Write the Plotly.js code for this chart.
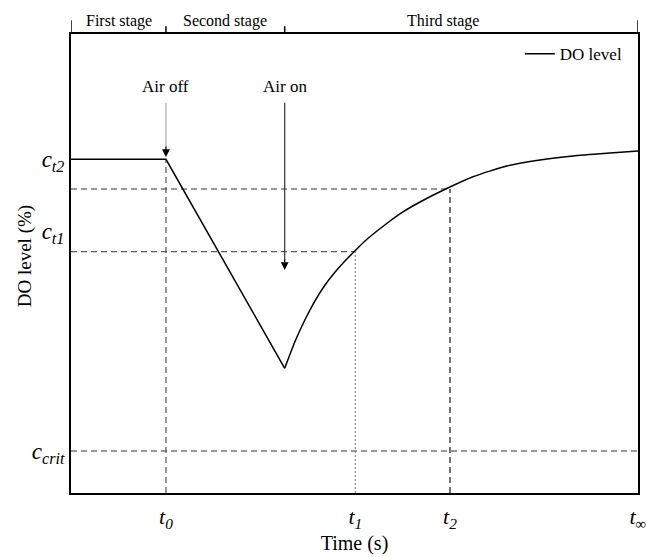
<!DOCTYPE html>
<html>
<head>
<meta charset="utf-8">
<script src="https://cdn.plot.ly/plotly-3.0.1.min.js"></script>
<style>html,body{margin:0;padding:0;background:#fff;}#chart{width:646px;height:557px;}</style>
</head>
<body>
<div id="chart"></div>
<script>
// ---- data (arbitrary units) ----
// first and second stage: constant level, then linear drop after air is switched off
const dropTime = [0, 16.75, 37.69];
const dropDO   = [72.7, 72.7, 27.17];
// third stage: recovery after air is switched on
const riseTime = [37.69, 39.45, 41.22, 42.98, 44.74, 46.51, 48.27, 50.09, 51.85, 55.68, 58.61, 61.55, 66.26, 70.9, 76.84, 82.72, 88.54, 94.48, 100];
const riseDO   = [27.17, 32.83, 37.63, 41.76, 45.21, 48.04, 50.48, 52.77, 54.9, 58.71, 61.29, 63.4, 66.34, 68.91, 71.24, 72.55, 73.42, 74.01, 74.51];

const t0 = 16.75, tAirOn = 37.69, t1 = 50.14, t2 = 66.84, tInf = 99.999;
const cT2 = 72.7, cT1line = 52.57, cT2line = 66.23, cCrit = 9.15, cT1label = 57.0;

const xTickVals = [t0, t1, t2, tInf];
const xTickText = ['<i>t</i><sub><i>0</i></sub>', '<i>t</i><sub><i>1</i></sub>', '<i>t</i><sub><i>2</i></sub>', '<i>t</i><sub>\u221e</sub>'];
const yTickVals = [cT2, cT1label, cCrit];
const yTickText = ['<i>c</i><sub><i>t2</i></sub>', '<i>c</i><sub><i>t1</i></sub>', '<i>c</i><sub><i>crit</i></sub>'];

const stageBounds = [0, 16.75, 37.69, 100];
const stageNames = ['First stage', 'Second stage', 'Third stage'];
const stageLabelX = [8.4, 27.2, 65.6];

const arrowX = [t0, tAirOn];
const arrowTail = [85.0, 85.0];
const arrowTip = [73.2, 48.6];
const arrowLabels = ['Air off', 'Air on'];
const arrowLineColors = ['#aaaaaa', '#333333'];

const FONT = '"Liberation Serif", "Times New Roman", serif';

const dashStyle = {color: '#333', width: 1, dash: '6px,4px'};
function guide(xs, ys, line) {
  return {x: xs, y: ys, mode: 'lines', line: line, showlegend: false, hoverinfo: 'skip'};
}

const traces = [
  guide([0, t2], [cT2line, cT2line], dashStyle),
  guide([0, t1], [cT1line, cT1line], dashStyle),
  guide([0, 100], [cCrit, cCrit], dashStyle),
  guide([t0, t0], [0, cT2], dashStyle),
  guide([t1, t1], [0, cT1line], {color: '#777', width: 1, dash: '2px,2px'}),
  guide([t2, t2], [0, cT2line], {color: '#444', width: 1.5, dash: '6px,4px'}),
  {x: dropTime, y: dropDO, mode: 'lines', name: 'DO level', legendgroup: 'do', line: {color: '#000', width: 1.5}},
  {x: riseTime, y: riseDO, mode: 'lines', name: 'DO level', legendgroup: 'do', showlegend: false, line: {color: '#000', width: 1.5, shape: 'spline', smoothing: 0.5}}
];

const shapes = [];
const annotations = [];
stageBounds.forEach((b, i) => {
  const outer = (i === 0 || i === stageBounds.length - 1);
  shapes.push({type: 'line', xref: 'x', yref: 'paper', x0: b, x1: b, y0: 1, y1: outer ? 1.03 : 1.017, line: {color: '#000', width: 1.5}});
});
stageNames.forEach((n, i) => {
  annotations.push({xref: 'x', yref: 'paper', x: stageLabelX[i], y: 1.029, xanchor: 'center', yanchor: 'middle', text: n, showarrow: false, font: {family: FONT, size: 16, color: '#000'}});
});
arrowX.forEach((x, i) => {
  shapes.push({type: 'line', xref: 'x', yref: 'y', x0: x, x1: x, y0: arrowTail[i], y1: arrowTip[i] + 2, line: {color: arrowLineColors[i], width: 1.2}});
  annotations.push({xref: 'x', yref: 'y', x: x, y: arrowTip[i], ax: 0, ay: -12, showarrow: true, arrowhead: 2, arrowsize: 1.3, arrowwidth: 1.2, arrowcolor: '#000', text: ''});
  annotations.push({xref: 'x', yref: 'y', x: x, y: arrowTail[i], xanchor: 'center', yanchor: 'bottom', yshift: 5, text: arrowLabels[i], showarrow: false, font: {family: FONT, size: 17, color: '#000'}});
});
// y-axis title placed to match the reference position
annotations.push({xref: 'paper', yref: 'paper', x: -0.081, y: 0.516, xanchor: 'center', yanchor: 'middle', textangle: -90, text: 'DO level (%)', showarrow: false, font: {family: FONT, size: 19, color: '#000'}});

const layout = {
  width: 646, height: 557,
  margin: {l: 71, r: 8, t: 34, b: 64},
  paper_bgcolor: '#fff', plot_bgcolor: '#fff',
  font: {family: FONT, color: '#000'},
  showlegend: true,
  legend: {x: 0.982, xanchor: 'right', y: 0.995, yanchor: 'top', bgcolor: 'rgba(0,0,0,0)', font: {family: FONT, size: 17}},
  xaxis: {range: [0, 100], showgrid: false, zeroline: false, showline: true, mirror: true, linecolor: '#000', linewidth: 2,
          ticks: '', tickvals: xTickVals, ticktext: xTickText, tickfont: {family: FONT, size: 22}, ticklabelstandoff: 3,
          ticklabeloverflow: 'allow',
          title: {text: 'Time (s)', font: {family: FONT, size: 20}, standoff: 5}, automargin: false},
  yaxis: {range: [0, 100], showgrid: false, zeroline: false, showline: true, mirror: true, linecolor: '#000', linewidth: 2,
          ticks: '', tickvals: yTickVals, ticktext: yTickText, tickfont: {family: FONT, size: 23}, ticklabelstandoff: 0,
          automargin: false},
  shapes: shapes,
  annotations: annotations
};

Plotly.newPlot('chart', traces, layout, {displayModeBar: false, staticPlot: true});
</script>
</body>
</html>
